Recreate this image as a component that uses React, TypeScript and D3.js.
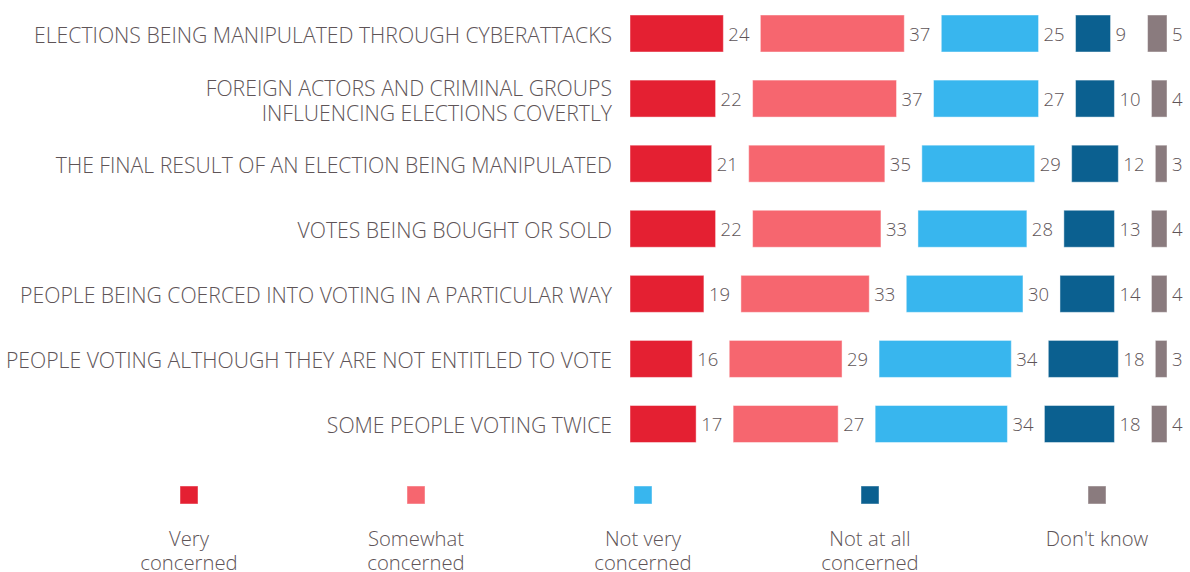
import React from "react";
import * as d3 from "d3";

const categories: string[][] = [
  ["ELECTIONS BEING MANIPULATED THROUGH CYBERATTACKS"],
  ["FOREIGN ACTORS AND CRIMINAL GROUPS", "INFLUENCING ELECTIONS COVERTLY"],
  ["THE FINAL RESULT OF AN ELECTION BEING MANIPULATED"],
  ["VOTES BEING BOUGHT OR SOLD"],
  ["PEOPLE BEING COERCED INTO VOTING IN A PARTICULAR WAY"],
  ["PEOPLE VOTING ALTHOUGH THEY ARE NOT ENTITLED TO VOTE"],
  ["SOME PEOPLE VOTING TWICE"],
];

const veryConcerned = [24, 22, 21, 22, 19, 16, 17];
const somewhatConcerned = [37, 37, 35, 33, 33, 29, 27];
const notVeryConcerned = [25, 27, 29, 28, 30, 34, 34];
const notAtAllConcerned = [9, 10, 12, 13, 14, 18, 18];
const dontKnow = [5, 4, 3, 4, 4, 3, 4];

const seriesNames: string[][] = [
  ["Very", "concerned"],
  ["Somewhat", "concerned"],
  ["Not very", "concerned"],
  ["Not at all", "concerned"],
  ["Don't know"],
];
const colors = ["#E42032", "#F6666F", "#38B6EE", "#0B6090", "#8A7B7E"];

const series = [veryConcerned, somewhatConcerned, notVeryConcerned, notAtAllConcerned, dontKnow];

const W = 1190;
const H = 572;
const textColor = "#5E5457";
const font = "'Open Sans', 'Noto Sans', sans-serif";

export default function App() {
  const x0 = 630;
  const gap = 37;
  const w = d3.scaleLinear().domain([0, 100]).range([0, 389]);
  const y = d3
    .scalePoint<number>()
    .domain(d3.range(categories.length))
    .range([33.5, 424]);
  const barH = 37;
  const legendX = d3.scalePoint<number>().domain(d3.range(5)).range([189, 1097]);

  return (
    <svg width={W} height={H} style={{ position: "absolute", left: 0, top: 0, background: "#fff" }} fontFamily={font}>
      {categories.map((lines, i) => {
        const cy = y(i)!;
        const lh = 25;
        const startY = cy + 2 - ((lines.length - 1) * lh) / 2;
        let cum = 0;
        return (
          <g key={i}>
            <text textAnchor="end" fill={textColor} fontSize={21.2} fontWeight={300}>
              {lines.map((l, j) => (
                <tspan key={j} x={612} y={startY + j * lh} dy="0.35em">
                  {l}
                </tspan>
              ))}
            </text>
            {series.map((s, si) => {
              const v = s[i];
              const bx = x0 + w(cum) + si * gap;
              cum += v;
              return (
                <g key={si}>
                  <rect
                    x={bx}
                    y={cy - barH / 2}
                    width={w(v)}
                    height={barH}
                    fill={colors[si]}
                    stroke="#ffffff"
                    strokeOpacity={0.45}
                    strokeWidth={1}
                  />
                  <text x={bx + w(v) + 5} y={cy + 1} dy="0.35em" fill={textColor} fontSize={18.5} fontWeight={300}>
                    {v}
                  </text>
                </g>
              );
            })}
          </g>
        );
      })}
      {seriesNames.map((lines, si) => {
        const cx = legendX(si)!;
        return (
          <g key={si}>
            <rect x={cx - 9} y={486} width={18} height={18} fill={colors[si]} stroke="#fff" strokeOpacity={0.45} />
            <text textAnchor="middle" fill={textColor} fontSize={20.3} fontWeight={300}>
              {lines.map((l, j) => (
                <tspan key={j} x={cx} y={539 + j * 24} dy="0.35em">
                  {l}
                </tspan>
              ))}
            </text>
          </g>
        );
      })}
    </svg>
  );
}
